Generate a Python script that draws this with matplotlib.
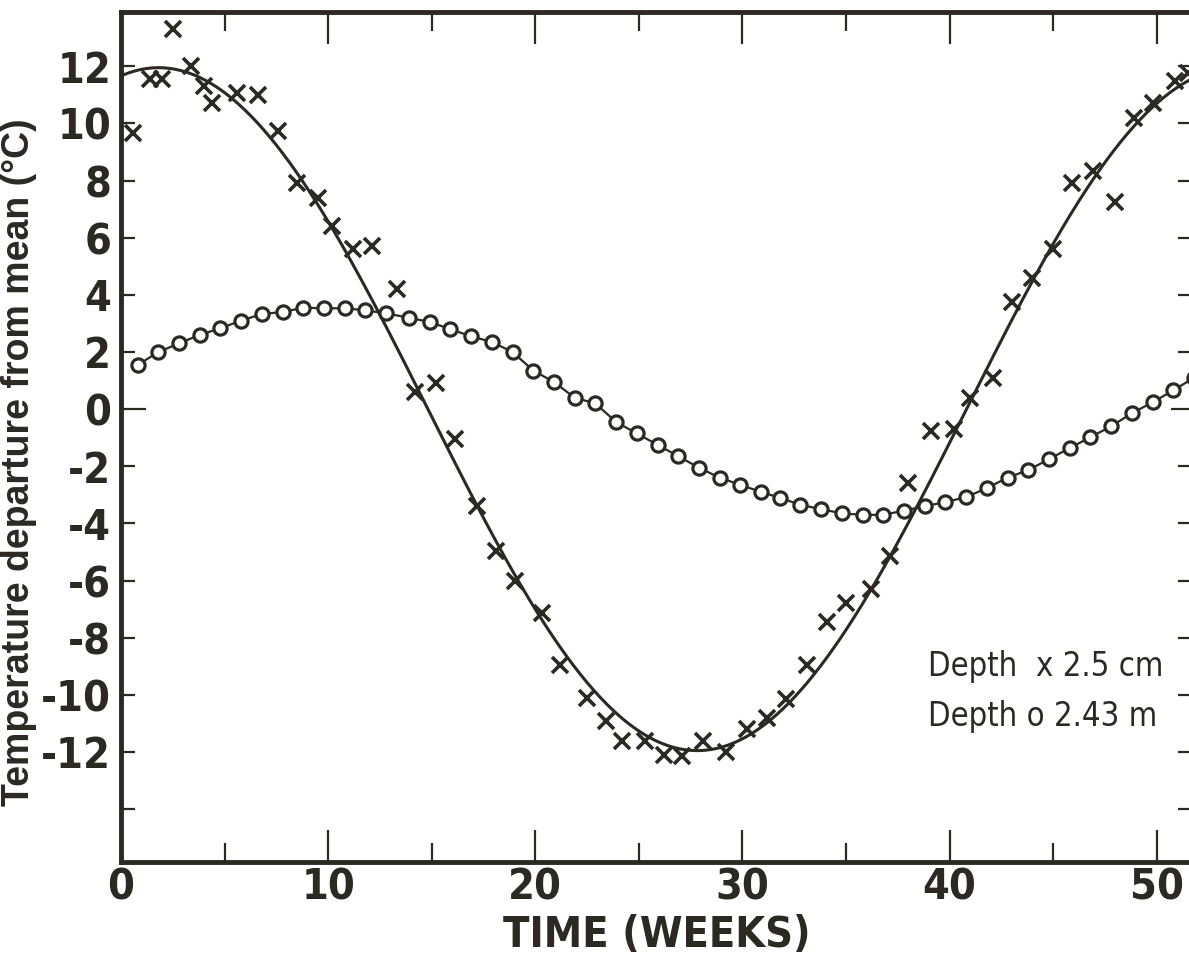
import numpy as np
import matplotlib
matplotlib.use("Agg")
import matplotlib.pyplot as plt
from matplotlib import font_manager

# Depth 2.5 cm: weekly readings (week, departure from annual mean, deg C)
weeks_surface = [0.6, 1.4, 2.0, 2.5, 3.4, 4.0, 4.4, 5.6, 6.6, 7.6, 8.5, 9.5,
                 10.2, 11.2, 12.1, 13.3, 14.2, 15.2, 16.1, 17.2, 18.1, 19.0,
                 20.3, 21.2, 22.5, 23.4, 24.2, 25.3, 26.2, 27.1, 28.1, 29.2,
                 30.2, 31.2, 32.1, 33.1, 34.1, 35.0, 36.2, 37.1, 38.0, 39.1,
                 40.2, 41.0, 42.1, 43.0, 44.0, 45.0, 45.9, 46.9, 48.0, 48.9,
                 49.8, 50.9, 51.5]
temp_surface = [9.65, 11.55, 11.55, 13.3, 12.0, 11.3, 10.7, 11.05, 11.0, 9.75,
                7.9, 7.4, 6.4, 5.6, 5.7, 4.2, 0.6, 0.9, -1.05, -3.4, -4.95,
                -6.0, -7.15, -8.95, -10.1, -10.9, -11.6, -11.6, -12.1, -12.15,
                -11.6, -12.0, -11.2, -10.8, -10.15, -8.95, -7.45, -6.8, -6.3,
                -5.15, -2.6, -0.75, -0.7, 0.4, 1.1, 3.75, 4.6, 5.6, 7.9, 8.35,
                7.25, 10.2, 10.7, 11.5, 11.75]

# Depth 2.43 m: weekly readings
weeks_deep = [0.8, 1.8, 2.8, 3.8, 4.8, 5.8, 6.8, 7.8, 8.8, 9.8, 10.8, 11.8,
              12.8, 13.9, 14.9, 15.9, 16.9, 17.9, 18.9, 19.9, 20.9, 21.9,
              22.9, 23.9, 24.9, 25.9, 26.9, 27.9, 28.9, 29.9, 30.9, 31.8,
              32.8, 33.8, 34.8, 35.8, 36.8, 37.8, 38.8, 39.8, 40.8, 41.8,
              42.8, 43.8, 44.8, 45.8, 46.8, 47.8, 48.8, 49.8, 50.8, 51.8]
temp_deep = [1.54, 2.0, 2.3, 2.6, 2.83, 3.1, 3.33, 3.4, 3.55, 3.53, 3.53, 3.46,
             3.35, 3.2, 3.05, 2.8, 2.55, 2.35, 2.0, 1.35, 0.95, 0.4, 0.2,
             -0.45, -0.85, -1.25, -1.65, -2.05, -2.4, -2.65, -2.9, -3.1,
             -3.35, -3.5, -3.65, -3.7, -3.7, -3.55, -3.4, -3.25, -3.08, -2.76,
             -2.4, -2.13, -1.75, -1.36, -0.98, -0.6, -0.14, 0.24, 0.66, 1.1]

x_ticks = [0, 10, 20, 30, 40, 50]
x_minor_ticks = [5, 15, 25, 35, 45]
y_ticks = [12, 10, 8, 6, 4, 2, 0, -2, -4, -6, -8, -10, -12, -14]
y_tick_labels = ["12", "10", "8", "6", "4", "2", "0", "-2", "-4", "-6", "-8",
                 "-10", "-12", ""]

PERIOD = 52.0  # weeks in the annual cycle
INK = "#2b2922"

# Prefer a condensed face for the lettering when one is available
has_condensed = any(f.name == "DejaVu Sans" and f.stretch == "condensed"
                    and f.weight in ("bold", 700)
                    for f in font_manager.fontManager.ttflist)
if has_condensed:
    LETTER = dict(family="DejaVu Sans", stretch="condensed")
    tick_size, xlabel_size, note_size = 31, 31, 23.5
else:
    LETTER = dict(family="Liberation Sans")
    tick_size, xlabel_size, note_size = 30, 30, 22
SANS = ["Liberation Sans", "DejaVu Sans"]

# Annual harmonic (zero mean: values are departures from the mean)
# fitted to the shallow readings by least squares
t = np.asarray(weeks_surface)
w = 2 * np.pi / PERIOD
design = np.column_stack([np.cos(w * t), np.sin(w * t)])
coef, *_ = np.linalg.lstsq(design, np.asarray(temp_surface), rcond=None)
t_fit = np.linspace(0, 52, 500)
fit = coef[0] * np.cos(w * t_fit) + coef[1] * np.sin(w * t_fit)

fig = plt.figure(figsize=(11.89, 9.67), dpi=100)
fig.patch.set_facecolor("white")
ax = fig.add_axes([121 / 1189, 1 - 862 / 967, (1192 - 121) / 1189, (862 - 12) / 967])

ax.plot(t_fit, fit, color=INK, lw=2.2, zorder=2)
ax.plot(weeks_surface, temp_surface, ls="none", marker="x", ms=12, mew=2.6,
        color=INK, zorder=3)
ax.plot(weeks_deep, temp_deep, color=INK, lw=1.6, marker="o", ms=9.5, mew=2.3,
        mfc="white", mec=INK, zorder=4)

ax.set_xlim(0, 51.7)
ax.set_ylim(-15.85, 13.9)

for side in ax.spines.values():
    side.set_linewidth(3.5)
    side.set_color(INK)

ax.set_xticks(x_ticks)
ax.set_xticks(x_minor_ticks, minor=True)
ax.set_yticks(y_ticks)
ax.set_yticklabels(y_tick_labels)
ax.tick_params(axis="x", which="major", direction="in", length=23, width=1.6,
               top=True, color=INK, pad=3)
ax.tick_params(axis="x", which="minor", direction="in", length=14, width=1.6,
               top=True, color=INK)
ax.tick_params(axis="y", which="major", direction="in", length=10, width=1.6,
               right=True, color=INK, pad=7)
# the zero line gets a longer mark on both sides
for tk, val in zip(ax.yaxis.get_major_ticks(), y_ticks):
    if val == 0:
        tk.tick1line.set_markersize(18)
        tk.tick2line.set_markersize(15)

for lab in ax.get_xticklabels() + ax.get_yticklabels():
    lab.set_fontproperties(font_manager.FontProperties(
        weight="bold", size=tick_size, **LETTER))
    lab.set_color(INK)

ax.set_xlabel("TIME (WEEKS)", fontweight="bold", fontsize=xlabel_size,
              color=INK, labelpad=4, **LETTER)
ax.set_ylabel("Temperature departure from mean (°C)", family=SANS,
              fontweight="bold", fontsize=27, color=INK)
ax.yaxis.set_label_coords(-0.078, 0.47)

ax.text(38.95, -9.0, "Depth  x 2.5 cm", fontsize=note_size,
        color=INK, va="center", ha="left", **LETTER)
ax.text(38.95, -10.75, "Depth o 2.43 m", fontsize=note_size,
        color=INK, va="center", ha="left", **LETTER)

fig.savefig("out.png", dpi=100, facecolor="white")
